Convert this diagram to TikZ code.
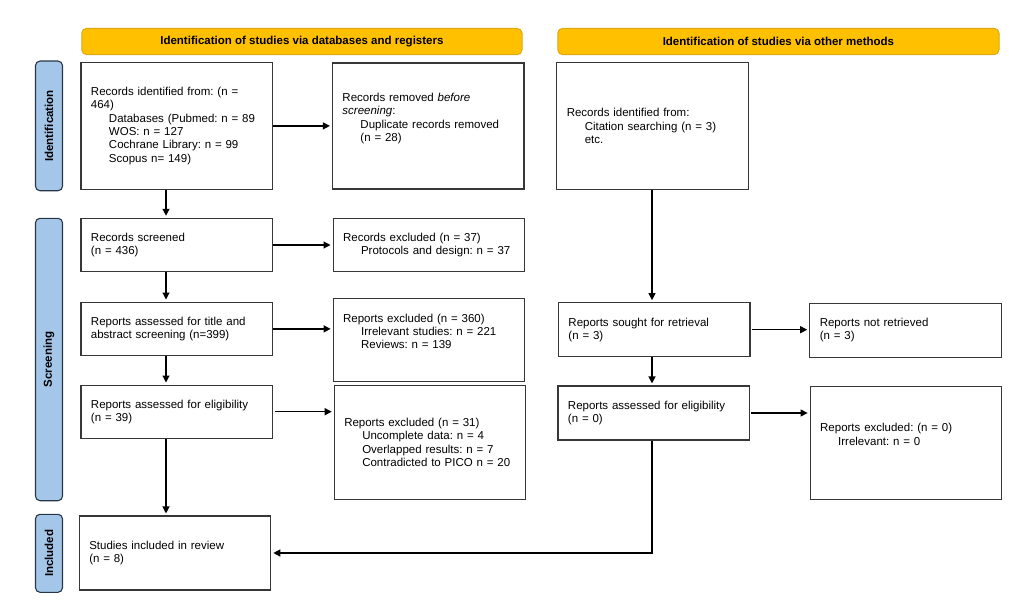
\documentclass[tikz,border=0pt]{standalone}
\usepackage{fontspec}
\setmainfont{Liberation Sans}
\usetikzlibrary{arrows.meta,calc}
\definecolor{bordergray}{RGB}{55,55,55}
\definecolor{banneryellow}{RGB}{255,192,0}
\definecolor{bannerborder}{RGB}{222,168,20}
\definecolor{sideblue}{RGB}{164,198,233}
\definecolor{sideborder}{RGB}{40,55,72}
\newcommand{\ind}{\hspace*{18pt}}
\frenchspacing
\begin{document}
\begin{tikzpicture}[x=1pt,y=-1pt,
  every node/.style={font=\fontsize{11.5}{13.3}\selectfont\frenchspacing},
  box/.style={draw=bordergray, line width=1.1pt, text width=171.5pt, inner xsep=10pt, inner ysep=0pt, align=left, minimum height=#1},
  banner/.style={draw=bannerborder, line width=1pt, fill=banneryellow, rounded corners=5pt, minimum height=26.4pt, inner sep=0pt, font=\fontsize{11.5}{13.3}\selectfont\bfseries},
  side/.style={draw=sideborder, line width=1.1pt, fill=sideblue, rounded corners=4.5pt, rotate=90, minimum width=#1, minimum height=27pt, inner sep=0pt, font=\fontsize{11.5}{13.3}\selectfont\bfseries},
  arr/.style={-{Triangle[length=7pt,width=7pt]}, line width=1.2pt, black, shorten >=2pt},
  ln/.style={line width=1.2pt, black}]
\useasboundingbox (0,0) rectangle (1035,607);

% banners
\node[banner, minimum width=440.3pt] (b1) at (301.9,41.5) {Identification of studies via databases and registers};
\node[banner, minimum width=441.3pt] (b2) at (778.4,41.5) {Identification of studies via other methods};

% side labels
\node[side=129.7pt] (sid) at (49,125.9) {Identification};
\node[side=282.4pt] (sscr) at (49,359.5) {Screening};
\node[side=78pt] (sinc) at (49,553.3) {Included};

% left column
\node[box=126.3pt] (recid) at (176.7,125.9) {Records identified from: (n =\\ 464)\\ \ind Databases (Pubmed: n = 89\\ \ind WOS: n = 127\\ \ind Cochrane Library: n = 99\\ \ind Scopus n= 149)};
\node[box=126pt] (removed) at (428.2,126) {Records removed \textit{before}\\ \textit{screening}:\\ \ind Duplicate records removed\\ \ind (n = 28)\\[0pt]\strut};
\node[box=53.4pt] (screened) at (176.7,245) {Records screened\\ (n = 436)};
\node[box=53.4pt] (recexcl) at (428.8,245) {Records excluded (n = 37)\\ \ind Protocols and design: n = 37};
\node[box=53.7pt] (title) at (176.7,328.9) {Reports assessed for title and\\ abstract screening (n=399)};
\node[box=82.3pt] (rep360) at (428.9,339.9) {Reports excluded (n = 360)\\ \ind Irrelevant studies: n = 221\\ \ind Reviews: n = 139\\[0pt]\strut};
\node[box=53.3pt] (elig) at (176.7,411.7) {Reports assessed for eligibility\\ (n = 39)};
\node[box=113.6pt] (excl31) at (430,442.5) {Reports excluded (n = 31)\\ \ind Uncomplete data: n = 4\\ \ind Overlapped results: n = 7\\ \ind Contradicted to PICO n = 20};
\node[box=74pt] (included) at (175,553) {Studies included in review\\ (n = 8)};

% right column
\node[box=126.3pt] (otherid) at (652.5,125.9) {Records identified from:\\ \ind Citation searching (n = 3)\\ \ind etc.};
\node[box=54pt] (sought) at (654.2,329.7) {Reports sought for retrieval\\ (n = 3)};
\node[box=54pt] (notretr) at (905.5,330.3) {Reports not retrieved\\ (n = 3)};
\node[box=54pt] (elig2) at (653.7,413) {Reports assessed for eligibility\\ (n = 0)};
\node[box=112.3pt] (excl0) at (905.9,442.9) {Reports excluded: (n = 0)\\ \ind Irrelevant: n = 0\\[0pt]\strut};

\coordinate (lx) at (166,0);
\coordinate (rx) at (652,0);

% connectors left
\draw[arr] (recid.east) -- (recid.east -| removed.west);
\draw[arr] (screened.east) -- (screened.east -| recexcl.west);
\draw[arr] (title.east) -- (title.east -| rep360.west);
\draw[arr, shorten <=2pt] (elig.east) -- (elig.east -| excl31.west);
\draw[arr] (recid.south -| lx) -- (screened.north -| lx);
\draw[arr] (screened.south -| lx) -- (title.north -| lx);
\draw[arr] (title.south -| lx) -- (elig.north -| lx);
\draw[arr] (elig.south -| lx) -- (included.north -| lx);

% connectors right
\draw[arr] (otherid.south -| rx) -- (sought.north -| rx);
\draw[arr, shorten <=1pt] (sought.east) -- (sought.east -| notretr.west);
\draw[arr] (sought.south -| rx) -- (elig2.north -| rx);
\draw[arr, shorten <=1pt] (elig2.east) -- (elig2.east -| excl0.west);
\draw[arr] (elig2.south -| rx) |- (included.east);
\end{tikzpicture}
\end{document}
